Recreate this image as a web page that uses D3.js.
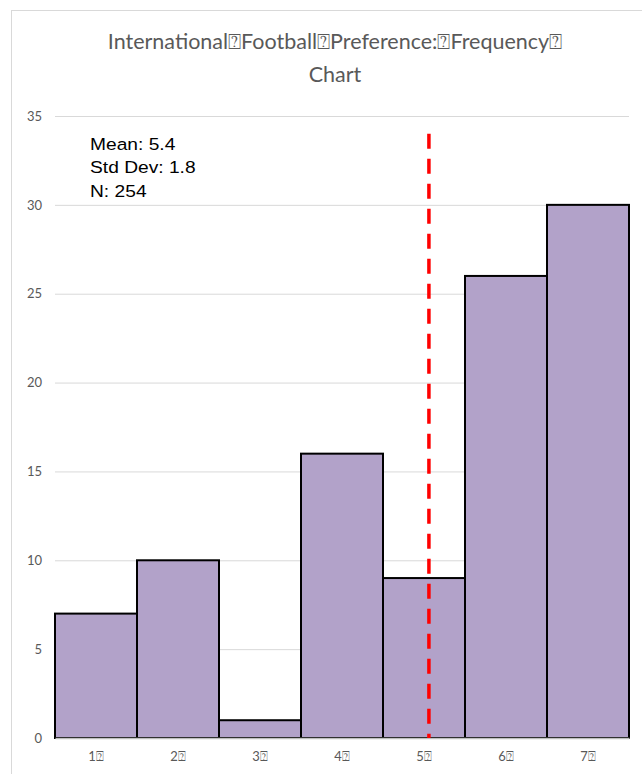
<!DOCTYPE html>
<html>
<head>
<meta charset="utf-8">
<script src="https://cdn.jsdelivr.net/npm/d3@7"></script>
<style>
  html, body { margin: 0; padding: 0; background: #ffffff; }
  svg { display: block; }
</style>
</head>
<body>
<svg id="chart" width="642" height="774"></svg>
<script>
// Response categories (1-7 scale) and their frequencies
const categories = ["1", "2", "3", "4", "5", "6", "7"];
const tickLabels = ["1\u2370", "2\u2370", "3\u2370", "4\u2370", "5\u2370", "6\u2370", "7\u2370"];
const frequencies = [7, 10, 1, 16, 9, 26, 30];
const yTicks = [0, 5, 10, 15, 20, 25, 30, 35];
const titleLines = ["International\u2370Football\u2370Preference:\u2370Frequency\u2370", "Chart"];
const statLines = ["Mean: 5.4", "Std Dev: 1.8", "N: 254"];
// dashed reference line: position on the category axis and its height
const refLineX = [5.06];
const refLineTop = [34];

const svg = d3.select("#chart");
const plot = { left: 55, right: 629, top: 116, bottom: 738 };
const uiFont = "Lato, 'Open Sans', sans-serif";

// outer chart frame (right and bottom edges fall outside the view)
svg.append("rect")
  .attr("x", 11.5).attr("y", 10.5)
  .attr("width", 800).attr("height", 900)
  .attr("fill", "none").attr("stroke", "#d9d9d9").attr("stroke-width", 1);

const x = d3.scaleBand().domain(categories).range([plot.left, plot.right]).padding(0);
const xLin = d3.scaleLinear().domain([0.5, 7.5]).range([plot.left, plot.right]);
const y = d3.scaleLinear().domain([0, 35]).range([plot.bottom, plot.top]);

// horizontal gridlines + y labels
const yAxis = d3.axisLeft(y).tickValues(yTicks).tickSize(-(plot.right - plot.left)).tickPadding(13);
const gy = svg.append("g").attr("transform", `translate(${plot.left},0)`).call(yAxis);
gy.select(".domain").remove();
gy.selectAll(".tick line").attr("stroke", "#d9d9d9").attr("stroke-width", 1);
gy.selectAll(".tick text")
  .attr("fill", "#595959")
  .style("font-family", uiFont)
  .style("font-size", "13px");

// bars
svg.append("g").selectAll("rect")
  .data(frequencies)
  .join("rect")
  .attr("x", (d, i) => x(categories[i]))
  .attr("y", d => y(d))
  .attr("width", x.bandwidth())
  .attr("height", d => y(0) - y(d))
  .attr("fill", "#b2a2c9")
  .attr("stroke", "#000000")
  .attr("stroke-width", 2);

// x axis baseline and labels
const xAxis = d3.axisBottom(x).tickSize(0).tickPadding(14).tickFormat((d, i) => tickLabels[i]);
const gx = svg.append("g").attr("transform", `translate(0,${plot.bottom})`).call(xAxis);
gx.select(".domain").attr("stroke", "#bfbfbf").attr("stroke-width", 1.5);
gx.selectAll(".tick text")
  .attr("fill", "#595959")
  .style("font-family", uiFont)
  .style("font-size", "13px");

// dashed reference line
svg.append("g").selectAll("line")
  .data(refLineX)
  .join("line")
  .attr("x1", d => xLin(d)).attr("x2", d => xLin(d))
  .attr("y1", (d, i) => y(refLineTop[i])).attr("y2", y(0))
  .attr("stroke", "#ff0000")
  .attr("stroke-width", 3.5)
  .attr("stroke-dasharray", "15,10");

// title
const title = svg.append("text")
  .attr("text-anchor", "middle")
  .attr("fill", "#595959")
  .style("font-family", uiFont)
  .style("font-weight", 400)
  .style("font-size", "21.5px");
titleLines.forEach((line, i) => {
  title.append("tspan")
    .attr("x", 335)
    .attr("y", 49 + i * 33)
    .text(line);
});

// summary statistics (slightly widened lettering)
const stats = svg.append("text")
  .attr("transform", "translate(90,0) scale(1.13,1)")
  .attr("fill", "#000000")
  .style("font-family", "'Liberation Sans', Arial, sans-serif")
  .style("font-size", "17px");
statLines.forEach((line, i) => {
  stats.append("tspan")
    .attr("x", 0)
    .attr("y", 150 + i * 23.5)
    .text(line);
});
</script>
</body>
</html>
